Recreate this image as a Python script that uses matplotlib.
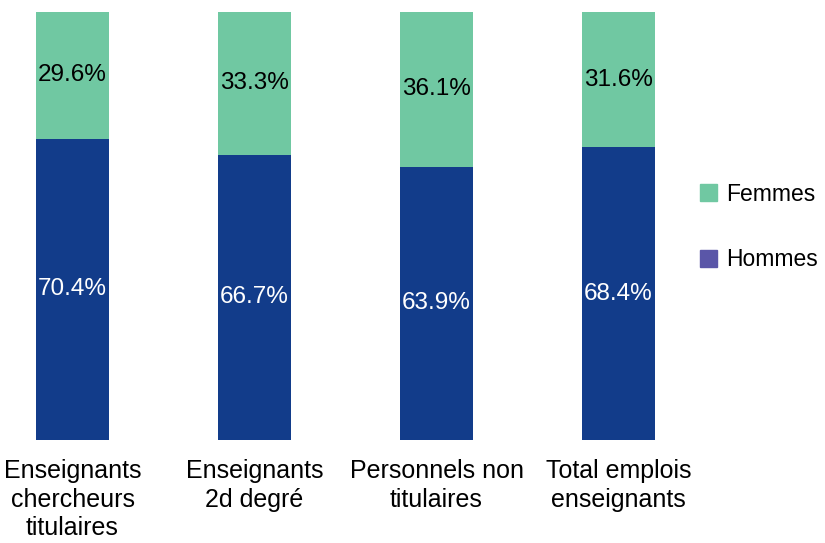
import matplotlib.pyplot as plt
from matplotlib.patches import Patch

plt.rcParams['font.family'] = ['Liberation Sans', 'DejaVu Sans']

categories = ['Enseignants\nchercheurs\ntitulaires', 'Enseignants\n2d degré',
              'Personnels non\ntitulaires', 'Total emplois\nenseignants']
hommes = [70.4, 66.7, 63.9, 68.4]
femmes = [29.6, 33.3, 36.1, 31.6]

FEMMES_COLOR = '#70c8a2'
HOMMES_COLOR = '#123c8a'
HOMMES_LEGEND = '#5a56a8'
FS = 17.5

fig = plt.figure(figsize=(8.25, 5.43), dpi=100)
# axes span in pixels: x 0..680, y 12..440 (from top)
ax = fig.add_axes([0, 103 / 543, 680 / 825, 428 / 543])

x = list(range(len(categories)))
bar_w = 73 / 182
ax.bar(x, hommes, width=bar_w, color=HOMMES_COLOR)
ax.bar(x, femmes, width=bar_w, bottom=hommes, color=FEMMES_COLOR)

for i in x:
    ax.text(i, hommes[i] / 2, '{:.1f}%'.format(hommes[i]), ha='center', va='center',
            color='white', fontsize=FS)
    ax.text(i, hommes[i] + femmes[i] / 2, '{:.1f}%'.format(femmes[i]), ha='center',
            va='center', color='black', fontsize=FS)

ax.set_xlim(-72.5 / 182, (680 - 72.5) / 182)
ax.set_ylim(0, 100)
ax.set_xticks(x)
ax.set_xticklabels(categories, fontsize=18, linespacing=1.22)
ax.tick_params(axis='x', length=0, pad=14)
ax.set_yticks([])
for s in ax.spines.values():
    s.set_visible(False)

handles = [Patch(color=FEMMES_COLOR, label='Femmes'),
           Patch(color=HOMMES_LEGEND, label='Hommes')]
fig.legend(handles=handles, loc='center left', bbox_to_anchor=(691 / 825, 1 - 227 / 543),
           frameon=False, fontsize=16.5, handlelength=0.74, handleheight=0.74,
           handletextpad=0.4, labelspacing=1.85, borderaxespad=0)

fig.savefig('out.png', dpi=100)
